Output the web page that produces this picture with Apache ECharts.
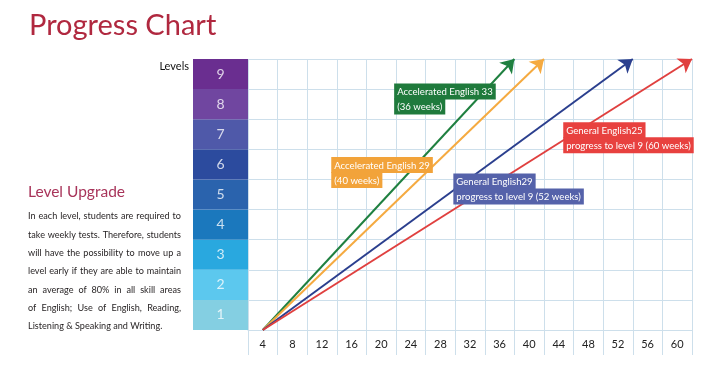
<!DOCTYPE html>
<html>
<head>
<meta charset="utf-8">
<script src="https://cdn.jsdelivr.net/npm/echarts@6/dist/echarts.min.js"></script>
<style>
html,body{margin:0;padding:0;background:#fff;}
#chart{width:711px;height:370px;}
</style>
</head>
<body>
<div id="chart"></div>
<script>
// ---- data ----
const weekLabels = ['4','8','12','16','20','24','28','32','36','40','44','48','52','56','60'];
const levelLabels = ['1','2','3','4','5','6','7','8','9'];
const courseNames = ['Accelerated English 33','Accelerated English 29','General English29','General English25'];
const courseNotes = ['(36 weeks)','(40 weeks)','progress to level 9 (52 weeks)','progress to level 9 (60 weeks)'];
const startWeek = [4, 4, 4, 4];
const startLevel = [0, 0, 0, 0];
const endWeek = [38, 42, 54, 62];
const endLevel = [9, 9, 9, 9];
const paragraphLines = [
  'In each level, students are required to',
  'take weekly tests. Therefore, students',
  'will have the possibility to move up a',
  'level early if they are able to maintain',
  'an average of 80% in all skill areas',
  'of English; Use of English, Reading,',
  'Listening & Speaking and Writing.'
];

// ---- styles ----
const levelColors = ['#84cfe2','#5cc8ee','#29a8df','#1b78bd','#2a63ad','#2c4b9e','#4f59a9','#7046a0','#6a2e90'];
const lineColors = ['#1f8040','#f5aa40','#2b3f8e','#e0403f'];
const boxColors = ['#1f7a3c','#f2a33a','#5562aa','#e8413f'];
const gridColor = '#cddfeb';
const FONT = 'Lato';

const chart = echarts.init(document.getElementById('chart'), null, {renderer:'canvas'});

const coursesSeries = courseNames.map((n, i) => ({
  type: 'lines',
  name: n,
  coordinateSystem: 'cartesian2d',
  xAxisIndex: 1,
  yAxisIndex: 0,
  polyline: false,
  symbol: ['none', 'arrow'],
  symbolSize: [9, 13],
  symbolOffset: [0, '50%'],
  lineStyle: { color: lineColors[i], width: 2, opacity: 1 },
  itemStyle: { color: lineColors[i] },
  z: 5,
  data: [{ coords: [[startWeek[i], startLevel[i]], [endWeek[i], endLevel[i]]] }]
}));

// callout anchors (data coords of box top-left)
const calloutAnchor = [[21.75, 8.17], [13.25, 5.73], [29.75, 5.18], [44.6, 6.88]];
const calloutSeries = {
  type: 'scatter',
  xAxisIndex: 1, yAxisIndex: 0,
  symbolSize: 0,
  silent: true,
  itemStyle: { opacity: 1 },
  z: 10,
  data: courseNames.map((n, i) => ({
    value: calloutAnchor[i],
    label: {
      show: true,
      position: [0, 0],
      align: 'left',
      verticalAlign: 'top',
      formatter: '{b|' + n + '}\n{b|' + courseNotes[i] + '}',
      rich: {
        b: {
          color: '#ffffff',
          fontFamily: FONT,
          fontSize: 9.6,
          height: 15,
          lineHeight: 15,
          backgroundColor: boxColors[i],
          padding: [1, 3, 0, 3]
        }
      }
    }
  }))
};

const levelSeries = {
  type: 'bar',
  xAxisIndex: 2,
  yAxisIndex: 1,
  barCategoryGap: '0%',
  barWidth: '100%',
  silent: true,
  data: levelLabels.map((l, i) => ({ value: 1, itemStyle: { color: levelColors[i] } })),
  label: {
    show: true,
    position: 'inside',
    formatter: '{b}',
    color: 'rgba(255,255,255,0.78)',
    fontFamily: FONT,
    fontSize: 14
  }
};

const graphics = [
  { type: 'text', left: 29, top: 11, style: { text: 'Progress Chart', fill: '#b0283f', font: '29px ' + FONT } },
  { type: 'text', left: 28, top: 184, style: { text: 'Level Upgrade', fill: '#a8345a', font: '15.5px ' + FONT } },
  { type: 'text', right: 711 - 189, top: 61, style: { text: 'Levels', fill: '#111', font: '11px ' + FONT, textAlign: 'right' } }
];

// justified paragraph (word placement measured with canvas)
const pFont = '9.1px ' + FONT;
const mctx = document.createElement('canvas').getContext('2d');
mctx.font = pFont;
const spaceW = mctx.measureText(' ').width;
const pLeft = 28, pRight = 181, pTop0 = 212, pStep = 18.3;
paragraphLines.forEach((t, k) => {
  const y = pTop0 + pStep * k;
  const words = t.split(' ');
  const last = k === paragraphLines.length - 1;
  if (last || words.length < 2) {
    graphics.push({ type: 'text', x: pLeft, y: y, style: { text: t, fill: '#231f20', font: pFont } });
    return;
  }
  const widths = words.map(w => mctx.measureText(w).width);
  const total = widths.reduce((a, b) => a + b, 0);
  const gap = Math.max(spaceW * 0.8, (pRight - pLeft - total) / (words.length - 1));
  let x = pLeft;
  words.forEach((w, j) => {
    graphics.push({ type: 'text', x: x, y: y, style: { text: w, fill: '#231f20', font: pFont } });
    x += widths[j] + gap;
  });
});

const option = {
  animation: false,
  backgroundColor: '#ffffff',
  grid: [
    { left: 248, right: 19, top: 59, bottom: 40, show: false },
    { left: 193, right: 463, top: 59, bottom: 40, show: false }
  ],
  xAxis: [
    {
      type: 'category', gridIndex: 0, data: weekLabels, boundaryGap: true,
      axisLine: { show: true, lineStyle: { color: gridColor } },
      axisTick: { show: true, length: 25, lineStyle: { color: gridColor } },
      axisLabel: { color: '#222', fontFamily: FONT, fontSize: 11, margin: 9 },
      splitLine: { show: true, lineStyle: { color: gridColor } }
    },
    { type: 'value', gridIndex: 0, min: 2, max: 62, show: false, splitLine: { show: false } },
    { type: 'value', gridIndex: 1, min: 0, max: 1, show: false, splitLine: { show: false } }
  ],
  yAxis: [
    {
      type: 'value', gridIndex: 0, min: 0, max: 9, interval: 1,
      axisLine: { show: false }, axisTick: { show: false }, axisLabel: { show: false },
      splitLine: { show: true, lineStyle: { color: gridColor } }
    },
    {
      type: 'category', gridIndex: 1, data: levelLabels, boundaryGap: true,
      axisLine: { show: false }, axisTick: { show: false }, axisLabel: { show: false },
      splitLine: { show: false }
    }
  ],
  graphic: graphics,
  series: [levelSeries].concat(coursesSeries, [calloutSeries])
};
chart.setOption(option);
</script>
</body>
</html>
